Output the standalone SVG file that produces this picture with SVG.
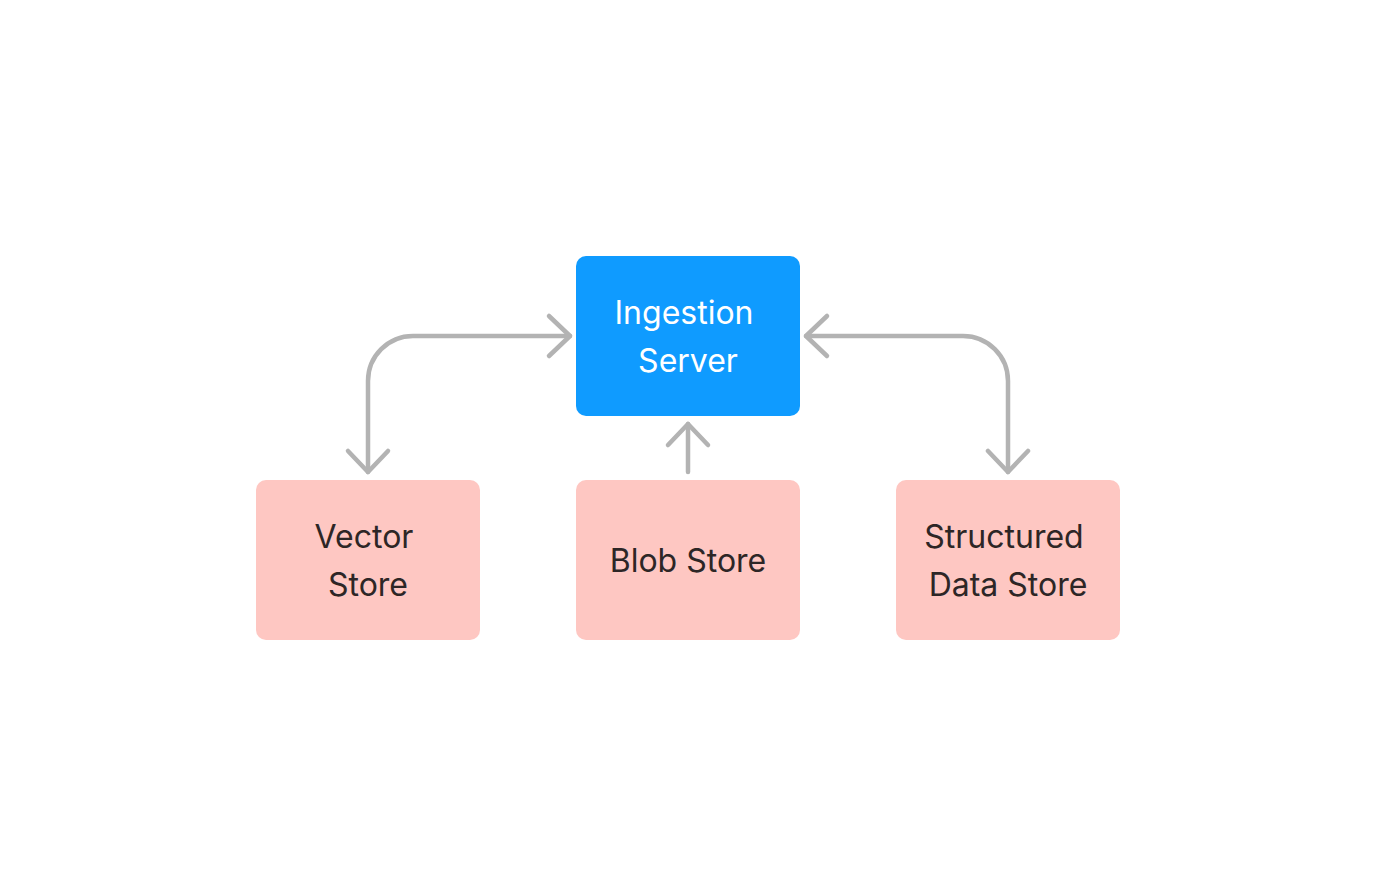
<svg xmlns="http://www.w3.org/2000/svg" width="1376" height="896" viewBox="0 0 1376 896">
<defs>
<style>
.conn{fill:none;stroke:#b3b3b3;stroke-width:4.5;stroke-linecap:round;stroke-linejoin:round}
.blue{fill:#0f9bff}
.pink{fill:#fec7c2}
.lbl{font-family:Inter,"Liberation Sans",sans-serif;font-size:32px;text-anchor:middle}
.w{fill:#ffffff}
.d{fill:#2d2626}
</style>
<marker id="ah" markerUnits="userSpaceOnUse" markerWidth="60" markerHeight="60" viewBox="-30 -30 60 60" refX="0" refY="0" orient="auto-start-reverse" overflow="visible">
<path d="M-21,-20 L0,0 L-21,20" fill="none" stroke="#b3b3b3" stroke-width="4.5" stroke-linecap="round" stroke-linejoin="round"/>
</marker>
</defs>
<rect width="1376" height="896" fill="#ffffff"/>
<g id="connectors">
<path class="conn" d="M368,472 V381 A45,45 0 0 1 413,336 H570" marker-start="url(#ah)" marker-end="url(#ah)"/>
<path class="conn" d="M688,472 V424" marker-end="url(#ah)"/>
<path class="conn" d="M806,336 H963 A45,45 0 0 1 1008,381 V472" marker-start="url(#ah)" marker-end="url(#ah)"/>
</g>
<g id="ingestion-server">
<rect class="blue" x="576" y="256" width="224" height="160" rx="10"/>
<text class="lbl w" x="684" y="324">Ingestion</text>
<text class="lbl w" x="688" y="372">Server</text>
</g>
<g id="vector-store">
<rect class="pink" x="256" y="480" width="224" height="160" rx="10"/>
<text class="lbl d" x="364" y="548">Vector</text>
<text class="lbl d" x="368" y="596">Store</text>
</g>
<g id="blob-store">
<rect class="pink" x="576" y="480" width="224" height="160" rx="10"/>
<text class="lbl d" x="688" y="572">Blob Store</text>
</g>
<g id="structured-data-store">
<rect class="pink" x="896" y="480" width="224" height="160" rx="10"/>
<text class="lbl d" x="1004" y="548">Structured</text>
<text class="lbl d" x="1008" y="596">Data Store</text>
</g>
</svg>
